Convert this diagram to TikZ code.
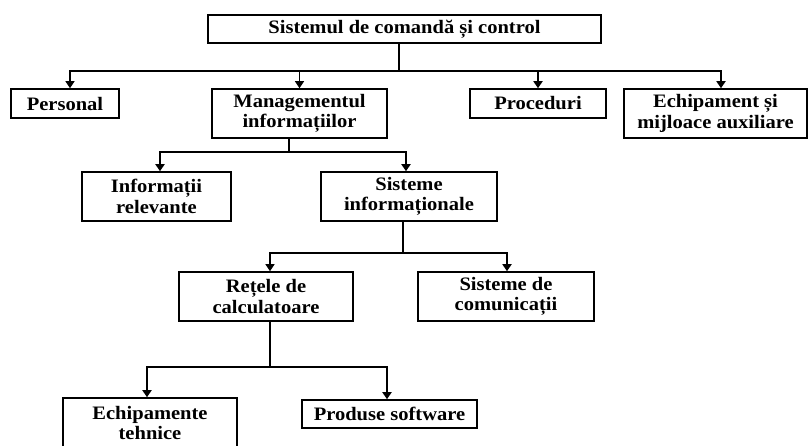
\documentclass[tikz,border=0pt]{standalone}
\usepackage{fontspec}
\setmainfont{Liberation Serif}[FakeStretch=1.08]
\usetikzlibrary{arrows.meta}
\begin{document}
\begin{tikzpicture}[x=1pt,y=-1pt,
  box/.style={draw, line width=1.6pt, inner sep=0pt, align=center,
    font=\bfseries\fontsize{19}{20.5}\selectfont},
  thin/.style={line width=1.3pt},
  thick/.style={line width=2.6pt},
  tip/.style={-{Triangle[width=9pt,length=7pt]}}]
\useasboundingbox (0,0) rectangle (809,445);
\clip (0,0) rectangle (809,445);

% top level
\node[box, minimum width=393pt, minimum height=28pt] (top) at (404.5,29) {Sistemul de comandă și control};

% first level
\node[box, minimum width=108pt, minimum height=29pt] (pers) at (65,103.5) {Personal};
\node[box, minimum width=175pt, minimum height=49pt] (mgmt) at (299.5,113.5) {Managementul\\informațiilor};
\node[box, minimum width=136pt, minimum height=29pt] (proc) at (538,103.5) {Proceduri};
\node[box, minimum width=183pt, minimum height=49pt] (echip) at (715.5,113.5) {Echipament și\\mijloace auxiliare};

% second level
\node[box, minimum width=149pt, minimum height=49pt] (info) at (156.5,196.5) {Informații\\relevante};
\node[box, minimum width=176pt, minimum height=49pt] (sist) at (409,196.5) {Sisteme\\informaționale};

% third level
\node[box, minimum width=174pt, minimum height=49pt] (ret) at (266,296.5) {Rețele de\\calculatoare};
\node[box, minimum width=176pt, minimum height=49pt] (com) at (506,296.5) {Sisteme de\\comunicații};

% fourth level
\node[box, minimum width=174pt, minimum height=50pt] (echt) at (150,423) {Echipamente\\tehnice};
\node[box, minimum width=175pt, minimum height=28pt] (prod) at (389.5,414) {Produse software};

% junction points
\coordinate (j1) at (399,71);
\coordinate (j2) at (289,152);
\coordinate (j3) at (403,253);
\coordinate (j4) at (270,367);

% connectors, level 1
\draw[thick] (top.south -| j1) -- (j1);
\draw[thin, tip] (j1) -| ([xshift=5pt]pers.north);
\draw[thin, tip] (j1) -| (mgmt.north);
\draw[thick, tip] (j1) -| (proc.north);
\draw[thick, tip] (j1) -| ([xshift=5.5pt]echip.north);

% connectors, level 2
\draw[thin] (mgmt.south -| j2) -- (j2);
\draw[thick, tip] (j2) -| ([xshift=3.5pt]info.north);
\draw[thick, tip] (j2) -| ([xshift=-3pt]sist.north);

% connectors, level 3
\draw[thin] (sist.south -| j3) -- (j3);
\draw[thin, tip] (j3) -| ([xshift=4pt]ret.north);
\draw[thick, tip] (j3) -| ([xshift=1pt]com.north);

% connectors, level 4
\draw[thin] (ret.south -| j4) -- (j4);
\draw[thick, tip] (j4) -| ([xshift=-3pt]echt.north);
\draw[thick, tip] (j4) -| ([xshift=-2.5pt]prod.north);
\end{tikzpicture}
\end{document}
